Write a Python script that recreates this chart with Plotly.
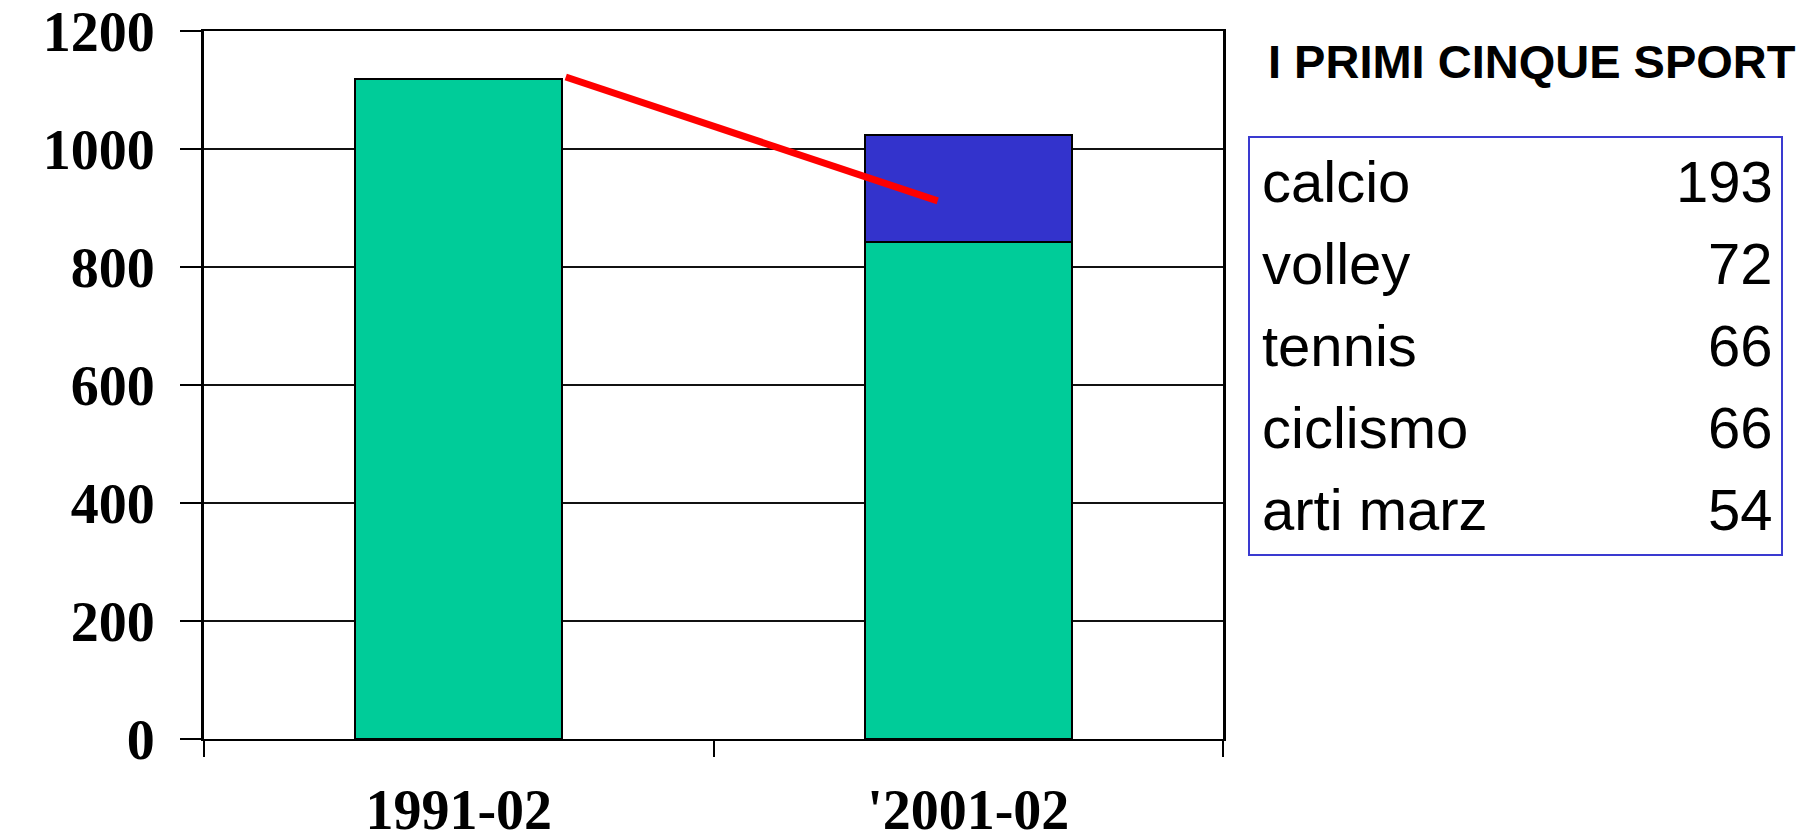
import plotly.graph_objects as go

# ---- data ----
categories = ["1991-02", "'2001-02"]
green_values = [1118, 842]
blue_values = [None, 181]
trend_x = [0.21, 0.94]          # position of trend segment in category units
trend_y = [1122, 912]
sports = ["calcio", "volley", "tennis", "ciclismo", "arti marz"]
sport_counts = [193, 72, 66, 66, 54]
y_ticks = [0, 200, 400, 600, 800, 1000, 1200]
panel_title = "I PRIMI CINQUE SPORT"

OFF = 8  # default page body margin
W, H = 1807 - OFF, 834 - OFF
# plot area in page pixels: x 204..1223, y 31..739
L, T = 204 - OFF, 31 - OFF
R, B = W - (1223 - OFF), H - (739 - OFF)
pw, ph = W - L - R, H - T - B


def px_x(px):  # page pixel -> paper x
    return (px - OFF - L) / pw


def px_y(py):  # page pixel -> paper y
    return (H - B - (py - OFF)) / ph


xpos = list(range(len(categories)))

fig = go.Figure()
fig.add_trace(go.Bar(x=xpos, y=green_values, marker=dict(color="#00CC99", line=dict(color="black", width=2)),
                     showlegend=False, hoverinfo="skip"))
fig.add_trace(go.Bar(x=xpos, y=blue_values, marker=dict(color="#3333CC", line=dict(color="black", width=2)),
                     showlegend=False, hoverinfo="skip"))
fig.add_trace(go.Scatter(x=trend_x, y=trend_y, mode="lines", line=dict(color="#FF0000", width=7),
                         showlegend=False, hoverinfo="skip"))

serif_bold = dict(family="Liberation Serif, Times New Roman, serif", size=56, color="black", weight="bold")

fig.update_layout(
    width=W, height=H,
    margin=dict(l=L, r=R, t=T, b=B, pad=0, autoexpand=False),
    paper_bgcolor="white", plot_bgcolor="white",
    barmode="stack", bargap=0.594,
    xaxis=dict(
        range=[-0.5, 1.5], tickmode="array", tickvals=xpos, ticktext=categories,
        ticks="", showgrid=False, zeroline=False, automargin=False,
        showline=True, mirror=True, linecolor="black", linewidth=2,
        tickfont=serif_bold, ticklabelstandoff=21, ticklabeloverflow="allow",
        minor=dict(tickmode="array", tickvals=[-0.5, 0.5, 1.5], ticks="outside",
                   ticklen=16, tickwidth=2, tickcolor="black", showgrid=False),
    ),
    yaxis=dict(
        range=[0, 1200], tickmode="array", tickvals=y_ticks,
        ticks="outside", ticklen=21, tickwidth=2, tickcolor="black",
        showgrid=True, gridcolor="#111111", gridwidth=2, automargin=False,
        zeroline=False, showline=True, mirror=True, linecolor="black", linewidth=3,
        tickfont=serif_bold, ticklabelstandoff=14, ticklabeloverflow="allow",
    ),
)

# panel title
fig.add_annotation(text="<b>" + panel_title + "</b>", xref="paper", yref="paper",
                   x=px_x(1266), y=px_y(62), xanchor="left", yanchor="middle", showarrow=False,
                   font=dict(family="Liberation Sans, Arial, sans-serif", size=47, color="black"))

# panel box
fig.add_shape(type="rect", xref="paper", yref="paper",
              x0=px_x(1249), x1=px_x(1782), y0=px_y(555), y1=px_y(137),
              line=dict(color="#3A3AD0", width=2), fillcolor="rgba(0,0,0,0)")

row_font = dict(family="Liberation Sans, Arial, sans-serif", size=58, color="black")
row_pitch = 81.75
for i, (name, val) in enumerate(zip(sports, sport_counts)):
    cy = 182 + i * row_pitch
    fig.add_annotation(text=name, xref="paper", yref="paper", x=px_x(1260), y=px_y(cy),
                       xanchor="left", yanchor="middle", showarrow=False, font=row_font)
    fig.add_annotation(text=str(val), xref="paper", yref="paper", x=px_x(1775), y=px_y(cy),
                       xanchor="right", yanchor="middle", showarrow=False, font=row_font)

fig.write_html("out.html")
